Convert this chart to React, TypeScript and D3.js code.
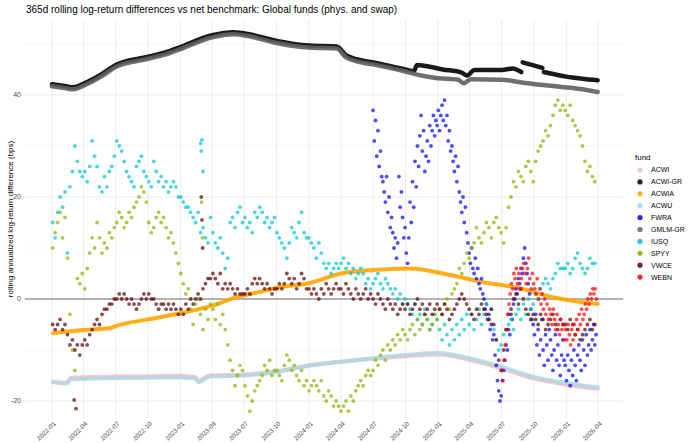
import React from "react";
import * as d3 from "d3";

const TITLE = "365d rolling log-return differences vs net benchmark: Global funds (phys. and swap)";
const Y_LABEL = "rolling annualized log-return difference (bps)";
const LEGEND_TITLE = "fund";
const FUNDS = ["ACWI", "ACWI-GR", "ACWIA", "ACWU", "FWRA", "GMLM-GR", "IUSQ", "SPYY", "VWCE", "WEBN"];
const FUND_COLORS = ["#FFB6C1", "#000000", "#FFA500", "#ADD8E6", "#0000FF", "#5F5F5F", "#00C5CD", "#86B300", "#5C0000", "#FF0000"];
const X_TICKS = ["2022-01", "2022-04", "2022-07", "2022-10", "2023-01", "2023-04", "2023-07", "2023-10", "2024-01", "2024-04", "2024-07", "2024-10", "2025-01", "2025-04", "2025-07", "2025-10", "2026-01", "2026-04"];
const Y_TICKS = [-20, 0, 20, 40];
const Y_MINOR = [-10, 10, 30, 50];

// ---- dense, smooth-looking series: [date, value] ----
const ACWI = [["2022-01-04", -16.2], ["2022-02-10", -16.4], ["2022-02-25", -15.4], ["2022-07-01", -15.2], ["2023-01-01", -15.1], ["2023-02-11", -15.3], ["2023-02-20", -16.0], ["2023-03-25", -15.0], ["2023-07-01", -14.8], ["2023-10-01", -14.2], ["2024-01-01", -13.0], ["2024-04-01", -12.3], ["2024-07-01", -11.7], ["2024-10-01", -11.2], ["2025-01-01", -10.9], ["2025-04-01", -11.9], ["2025-07-01", -13.6], ["2025-10-01", -15.6], ["2026-01-01", -16.8], ["2026-03-31", -17.6]];
const ACWI_GR_A = [["2022-01-01", 42.1], ["2022-02-10", 41.7], ["2022-03-01", 41.5], ["2022-04-12", 42.6], ["2022-05-20", 44.0], ["2022-07-01", 45.9], ["2022-10-01", 47.5], ["2022-12-01", 48.6], ["2023-01-01", 49.4], ["2023-04-01", 51.7], ["2023-06-01", 52.3], ["2023-07-15", 51.9], ["2023-10-01", 50.6], ["2024-01-01", 49.7], ["2024-03-20", 49.5], ["2024-04-15", 47.8], ["2024-05-15", 47.0], ["2024-07-01", 46.4], ["2024-10-01", 45.0], ["2024-10-25", 44.7], ["2024-11-03", 45.9], ["2025-01-15", 45.0], ["2025-03-10", 44.4], ["2025-03-25", 43.8], ["2025-04-15", 44.9], ["2025-07-01", 44.9], ["2025-08-01", 45.2], ["2025-08-26", 44.5]];
const ACWI_GR_B = [["2025-08-30", 46.4], ["2025-09-25", 45.9], ["2025-10-25", 45.3]];
const ACWI_GR_C = [["2025-10-29", 44.5], ["2025-12-01", 44.0], ["2026-01-01", 43.6], ["2026-02-15", 43.2], ["2026-03-31", 42.9]];
const ACWIA = [["2022-01-04", -6.7], ["2022-04-01", -6.1], ["2022-06-15", -5.7], ["2022-07-01", -5.3], ["2022-10-01", -4.0], ["2023-01-01", -2.8], ["2023-04-01", -1.3], ["2023-06-15", 0.5], ["2023-08-15", 1.4], ["2023-10-01", 2.2], ["2024-01-01", 3.1], ["2024-04-01", 5.0], ["2024-07-01", 5.7], ["2024-10-15", 6.0], ["2025-02-05", 4.7], ["2025-05-10", 3.3], ["2025-08-15", 2.2], ["2025-11-20", 0.4], ["2026-03-31", -1.0]];
const ACWU = [["2022-01-04", -16.3], ["2022-02-10", -16.6], ["2022-02-25", -15.7], ["2022-07-01", -15.5], ["2023-01-01", -15.4], ["2023-02-11", -15.5], ["2023-02-20", -16.3], ["2023-03-25", -15.2], ["2023-07-01", -15.0], ["2023-10-01", -14.3], ["2024-01-01", -13.1], ["2024-04-01", -12.3], ["2024-07-01", -11.6], ["2024-10-01", -11.0], ["2025-01-01", -10.6], ["2025-04-01", -11.6], ["2025-07-01", -13.3], ["2025-10-01", -15.3], ["2026-01-01", -16.5], ["2026-03-31", -17.3]];
const GMLM_GR = [["2022-01-01", 41.7], ["2022-02-10", 41.3], ["2022-03-01", 41.1], ["2022-04-12", 42.2], ["2022-05-20", 43.6], ["2022-07-01", 45.5], ["2022-10-01", 47.1], ["2022-12-01", 48.2], ["2023-01-01", 49.0], ["2023-04-01", 51.3], ["2023-06-01", 51.9], ["2023-07-15", 51.5], ["2023-10-01", 50.2], ["2024-01-01", 49.3], ["2024-03-20", 49.1], ["2024-04-15", 47.4], ["2024-05-15", 46.6], ["2024-07-01", 46.0], ["2024-10-01", 44.6], ["2024-10-28", 44.1], ["2025-01-01", 43.3], ["2025-02-28", 43.0], ["2025-03-15", 42.3], ["2025-04-05", 43.1], ["2025-07-01", 43.0], ["2025-09-01", 42.4], ["2025-12-01", 41.7], ["2026-01-15", 41.4], ["2026-03-31", 40.6]];

// ---- scattered series: weekly values from 2022-01-03 (13 per quarter) ----
const WEEKLY_START = "2022-01-03";
const IUSQ = [
  15, 12, 17, 20, 18, 21, 9, 22, 25, 30, 27, 25, 24,
  25, 23, 26, 31, 28, 26, 22, 21, 24, 22, 25, 26, 28,
  31, 30, 29, 27, 25, 24, 23, 22, 26, 27, 28, 25, 24,
  23, 22, 27, 25, 23, 24, 22, 23, 21, 22, 23, 22, 20,
  20, 19, 18, 18, 17, 16, 15, 17, 13, 14, 12, 11, 16,
  13, 11, 10, 12, 9, 6, 8, 15, 16, 14, 17, 18, 15,
  16, 14, 15, 13, 17, 16, 18, 17, 15, 16, 14, 15, 16,
  13, 12, 11, 10, 8, 11, 14, 13, 12, 15, 17, 13, 12,
  12, 11, 10, 8, 11, 9, 7, 6, 7, 5, 6, 7, 6,
  7, 8, 6, 7, 5, 6, 4, 5, 6, 5, 3, 4, 2,
  3, 4, 5, 3, 2, 4, 3, 2, 1, 2, 0, 1, -1,
  0, -1, -2, -3, -1, -4, -3, -5, -2, -4, -6, -5, -3,
  -4, -6, -8, -5, -7, -9, -6, -8, -5, -7, -4, -6, -3,
  -5, -3, -6, -4, -2, -5, -3, -1, -4, -2, -6, -8, -10,
  -9, -7, -6, -5, -4, -6, -3, -2, -4, -1, -3, 0, -2,
  -1, 1, 0, 2, 3, 4, 3, 2, 4, 5, 7, 6, 6,
  6, 7, 5, 6, 8, 9, 7, 6, 5, 6, 8, 7, 7,
];
const SPYY = [
  10, 13, 15, 17, 12, 16, 8, -3, -10, -14, 4, 3, 5,
  2, 6, 9, 12, 10, 15, 12, 9, 11, 10, 13, 12, 14,
  15, 17, 16, 14, 15, 17, 16, 18, 19, 20, 22, 21, 19,
  15, 13, 14, 16, 17, 15, 16, 14, 12, 13, 11, 9, 7,
  5, 3, 1, 2, -2, -5, -1, 0, -3, -6, -2, -4, -1,
  -2, -4, -1, -5, -3, -6, -9, -12, -14, -17, -15, -13, -14,
  -17, -19, -22, -20, -18, -17, -16, -15, -13, -14, -12, -15, -14,
  -14, -15, -16, -13, -11, -12, -14, -13, -15, -16, -14, -17, -16,
  -18, -17, -16, -17, -18, -16, -19, -20, -18, -19, -21, -20, -21,
  -22, -21, -20, -22, -19, -20, -18, -17, -16, -17, -15, -14, -15,
  -14, -12, -13, -11, -10, -12, -9, -10, -8, -9, -7, -8, -6,
  -7, -8, -6, -5, -7, -4, -6, -5, -3, -4, -6, -5, -3,
  -4, -2, -3, -1, 0, -2, 1, 2, 3, 6, 5, 7, 9,
  8, 10, 11, 14, 12, 11, 13, 15, 14, 12, 15, 16, 14,
  13, 11, 14, 18, 20, 23, 22, 25, 24, 23, 26, 27, 25,
  23, 27, 29, 30, 31, 33, 32, 34, 36, 38, 39, 37, 38,
  37, 36, 38, 35, 34, 33, 32, 30, 27, 25, 26, 24, 23,
];
const VWCE = [
  -5, -6, -5, -4, -6, -5, -7, -9, -8, -10, -9, -11, -9,
  -8, -9, -7, -6, -5, -4, -5, -3, -2, -2, -1, -1, 0,
  0, 1, 0, 1, 0, -1, 0, -1, -2, -1, 0, 1, 0,
  1, 0, 0, -1, -2, -1, -1, -2, -1, -2, -1, -2, -3,
  -2, -3, -1, -2, 0, -1, 0, 1, 0, 2, 3, 4, 4,
  5, 4, 3, 5, 2, 3, 2, 3, 2, 1, 2, 1, 1,
  1, 2, 1, 3, 4, 3, 4, 3, 2, 3, 2, 1, 2,
  2, 3, 2, 3, 5, 4, 3, 4, 2, 3, 5, 4, 2,
  2, 1, 2, 1, 0, 2, 1, 3, 2, 1, 2, 3, 2,
  2, 1, 3, 2, 1, 0, 2, 1, 0, 1, 2, 0, 1,
  0, -1, 1, 0, -1, -2, 0, -1, -2, -1, -3, -2, -1,
  -2, -1, -3, -2, -1, 0, -2, -1, -3, -2, -1, -3, -2,
  -1, -2, -3, -1, -2, -4, -3, -2, -1, 0, 1, 0, -1,
  -2, -3, -4, -2, -3, -1, -2, -3, -4, -2, -5, -8, -12,
  -14, -10, -6, -3, -2, 0, 1, -1, 2, 0, -2, -3, -4,
  -3, -4, -5, -3, -4, -6, -5, -4, -3, -5, -6, -4, -5,
  -5, -6, -4, -5, -7, -6, -8, -7, -6, -5, -4, -6, -5,
];

// ---- wide-spread series: two values per week ----
const FWRA_START = "2024-07-01";
const FWRA = [
  37, 31, 35, 28, 33, 26, 29, 24, 23, 21, 19, 24, 17, 20, 14, 16, 13, 10, 12, 8, 11, 24, 18, 21, 16, 12,
  14, 9, 7, 12, 19, 15, 23, 18, 27, 22, 30, 26, 32, 36, 29, 33, 25, 28, 31, 27, 34, 30, 33, 36, 32, 35,
  34, 37, 33, 36, 38, 35, 39, 34, 36, 31, 33, 29, 30, 27, 25, 28, 23, 26, 21, 19, 17, 20, 15, 18, 13, 11,
  9, 7, 10, 6, 5, 8, 4, 6, 3, 2, 4, 1, 0, -2, -1, -4, -3, -6, -5, -8, -7, -11, -13, -16, -18, -20,
  -19, -16, -14, -12, -9, -10, -6, -7, -3, -4, -1, 0, 2, 1, 4, 3, 6, 5, 8, 10, 7, 5, 3, 1, -2, -4,
  -5, -7, -3, -9, -6, -11, -8, -4, -10, -13, -7, -9, -12, -6, -8, -11, -14, -10, -7, -12, -9, -13, -15, -11, -8, -12,
  -13, -16, -11, -14, -17, -12, -15, -10, -13, -16, -11, -9, -12, -14, -8, -10, -13, -7, -11, -9, -6, -10, -8, -5, -9, -7,
];
const WEBN_START = "2025-07-01";
const WEBN = [
  -14, -16, -12, -9, -6, -3, -1, 1, 3, 2, 5, 4, 6, 3, 5, 2, 4, 6, 7, 5, 3, 6, 8, 4, 2, 5,
  3, 2, 1, 4, 0, 2, -1, 1, -2, 0, -3, -1, -4, -2, -3, -5, -2, -4, -6, -3, -5, -7, -4, -6, -5, -8,
  -6, -8, -5, -7, -9, -6, -8, -5, -7, -4, -6, -3, -5, -2, -4, -3, -1, -2, 0, -1, 1, 0, 2, 1, 2, 0,
];

// ---- isolated outliers: [date, value] ----
const IUSQ_EXTRA = [["2023-02-27", 30.5], ["2023-03-01", 29.0], ["2023-03-03", 31.2], ["2023-03-06", 25.0]];
const SPYY_EXTRA = [["2023-03-02", 19.0], ["2023-03-04", 12.0]];
const VWCE_EXTRA = [["2022-03-05", -19.8], ["2022-03-10", -21.5], ["2023-03-01", 20.0], ["2023-03-03", 15.5], ["2023-03-05", 10.0]];

const W = 690, H = 443;
const PANEL = { left: 25, right: 623, top: 20, bottom: 418 };

const parse = (s: string) => new Date(s + "T00:00:00Z");
const DAY = 86400000;

function seriesFrom(start: string, stepDays: number, values: number[]) {
  const t0 = parse(start).getTime();
  return values.map((v, i) => ({ date: new Date(t0 + i * stepDays * DAY), value: v }));
}
function pairs(arr: any[]) {
  return arr.map(([d, v]) => ({ date: parse(d), value: v as number }));
}

export default function App() {
  const x = d3.scaleUtc().domain([parse("2022-01-01"), parse("2026-04-01")]).range([52, 598]);
  const y = d3.scaleLinear().domain([-23.33, 54.7]).range([PANEL.bottom, PANEL.top]);
  const line = d3.line<{ date: Date; value: number }>().x(d => x(d.date)).y(d => y(d.value)).curve(d3.curveMonotoneX);
  const col = (f: string) => FUND_COLORS[FUNDS.indexOf(f)];

  const scatter: Record<string, { date: Date; value: number }[]> = {
    FWRA: seriesFrom(FWRA_START, 3.5, FWRA),
    IUSQ: [...seriesFrom(WEEKLY_START, 7, IUSQ), ...pairs(IUSQ_EXTRA)],
    SPYY: [...seriesFrom(WEEKLY_START, 7, SPYY), ...pairs(SPYY_EXTRA)],
    VWCE: [...seriesFrom(WEEKLY_START, 7, VWCE), ...pairs(VWCE_EXTRA)],
    WEBN: seriesFrom(WEBN_START, 3.5, WEBN),
  };
  const smooth: Record<string, any[][]> = {
    ACWI: [ACWI],
    "ACWI-GR": [ACWI_GR_A, ACWI_GR_B, ACWI_GR_C],
    ACWIA: [ACWIA],
    ACWU: [ACWU],
    "GMLM-GR": [GMLM_GR],
  };
  const widths: Record<string, number> = { ACWI: 4, "ACWI-GR": 4.5, ACWIA: 4, ACWU: 4, "GMLM-GR": 4.5 };

  const xTickDates = X_TICKS.map(t => parse(t + "-01"));

  return (
    <svg width={W} height={H} style={{ position: "absolute", left: 0, top: 0, background: "#fff" }} fontFamily="'Liberation Sans', Arial, sans-serif">
      <rect width={W} height={H} fill="#fff" />
      <text x={26} y={13} fontSize={10} fill="#000">{TITLE}</text>
      <defs>
        <clipPath id="panel"><rect x={PANEL.left} y={PANEL.top} width={PANEL.right - PANEL.left} height={PANEL.bottom - PANEL.top} /></clipPath>
      </defs>
      {Y_MINOR.map(v => (
        <line key={"ym" + v} x1={PANEL.left} x2={PANEL.right} y1={y(v)} y2={y(v)} stroke="#EBEBEB" strokeWidth={0.5} />
      ))}
      {Y_TICKS.map(v => (
        <line key={"yM" + v} x1={PANEL.left} x2={PANEL.right} y1={y(v)} y2={y(v)} stroke="#EBEBEB" strokeWidth={1} />
      ))}
      {xTickDates.map((d, i) => (
        <line key={"x" + i} x1={x(d)} x2={x(d)} y1={PANEL.top} y2={PANEL.bottom} stroke="#EBEBEB" strokeWidth={1} />
      ))}
      <line x1={PANEL.left} x2={PANEL.right} y1={y(0)} y2={y(0)} stroke="#6E6E6E" strokeWidth={1.1} />
      <g clipPath="url(#panel)">
        {FUNDS.map(f => {
          if (smooth[f]) {
            return smooth[f].map((seg, j) => (
              <path key={f + j} d={line(pairs(seg)) || ""} fill="none" stroke={col(f)} strokeWidth={widths[f]} strokeLinecap="round" strokeLinejoin="round" opacity={f === "ACWI" || f === "ACWU" ? 0.85 : 0.9} />
            ));
          }
          return (
            <g key={f}>
              {scatter[f].map((p, i) => (
                <circle key={i} cx={x(p.date)} cy={y(p.value)} r={1.9} fill={col(f)} fillOpacity={0.7} />
              ))}
            </g>
          );
        })}
      </g>
      {Y_TICKS.map(v => (
        <text key={"yl" + v} x={21} y={y(v)} dy="0.35em" textAnchor="end" fontSize={7} fill="#4D4D4D">{v}</text>
      ))}
      <text transform={`translate(10,${(PANEL.top + PANEL.bottom) / 2}) rotate(-90)`} textAnchor="middle" dy="0.35em" fontSize={8} fill="#000">{Y_LABEL}</text>
      {xTickDates.map((d, i) => (
        <text key={"xl" + i} transform={`translate(${x(d) + 1},${PANEL.bottom + 3}) rotate(-45)`} textAnchor="end" dy="0.7em" fontSize={6.5} fill="#4D4D4D">{X_TICKS[i]}</text>
      ))}
      <text x={635} y={160} fontSize={8} fill="#000">{LEGEND_TITLE}</text>
      {FUNDS.map((f, i) => (
        <g key={"lg" + f} transform={`translate(640,${170 + i * 11.9})`}>
          <circle r={2.6} fill={FUND_COLORS[i]} fillOpacity={0.85} />
          <text x={11} dy="0.35em" fontSize={7} fill="#000">{f}</text>
        </g>
      ))}
    </svg>
  );
}
